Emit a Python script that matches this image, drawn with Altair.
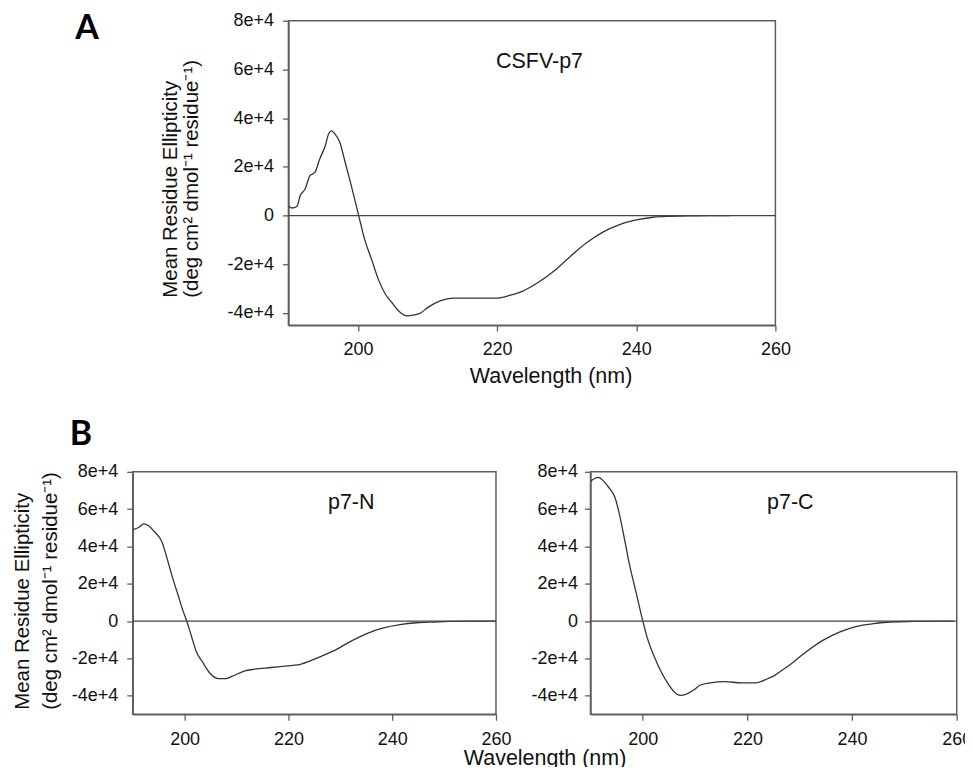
import altair as alt
import pandas as pd

# ---------------- data ----------------
# Panel A : CSFV-p7
wl_a = [190.0, 190.5, 191.2, 191.7, 192.4, 193.1, 193.8, 194.5, 195.3, 195.8, 196.2,
        196.7, 197.4, 198.1, 199.1, 200.1, 201.0, 202.0, 202.9, 203.9, 204.8, 206.0,
        207.0, 207.9, 208.9, 210.0, 211.8, 213.7, 216.5, 219.9, 221.8, 223.7, 225.6,
        228.0, 230.4, 232.8, 235.2, 237.6, 240.0, 242.4, 245.0, 248.0, 250.5, 253.5]
mre_a = [4100, 3100, 3700, 8200, 10900, 16400, 17700, 23200, 28700, 33700, 34800,
         33500, 30000, 22500, 11600, 0, -10200, -18400, -26000, -32100, -35500, -39600,
         -41200, -40900, -40200, -37800, -35000, -33900, -33900, -33900, -32800, -31000, -28000,
         -23200, -17100, -11300, -6800, -3700, -1800, -700, -300, -100, 0, 0]

# Panel B left : p7-N
wl_n = [190.0, 191.2, 192.1, 193.1, 194.3, 195.6, 196.5, 197.5, 198.7, 199.7, 200.4,
        201.3, 202.2, 203.5, 205.0, 206.6, 207.9, 209.1, 211.6, 213.5, 216.7, 219.8,
        221.8, 224.2, 226.5, 228.7, 231.9, 235.1, 238.3, 241.5, 244.7, 247.9, 251.1,
        255.0, 260.0]
mre_n = [49000, 50300, 52100, 51000, 47500, 42700, 34700, 24900, 14200, 5300, 0,
         -8000, -16000, -22200, -28400, -30900, -30900, -29700, -26700, -25800, -24900, -24000,
         -23500, -21300, -18700, -16000, -11000, -6700, -3700, -1900, -900, -500, -200,
         0, 0]

# Panel B right : p7-C
wl_c = [190.0, 190.7, 191.5, 192.5, 193.4, 194.7, 195.6, 196.5, 197.5, 198.7, 199.9,
        200.9, 202.2, 203.5, 205.0, 206.3, 207.2, 208.2, 209.7, 211.0, 212.9, 215.7,
        218.9, 221.7, 223.9, 225.0, 226.4, 228.2, 231.3, 234.5, 237.7, 240.9, 244.1,
        247.3, 251.7, 259.4]
mre_c = [75000, 76300, 77000, 75000, 72000, 66100, 56400, 43900, 29700, 15500, 1200,
         -9400, -19200, -27200, -34300, -38800, -39800, -39300, -37000, -34300, -33100, -32500,
         -33100, -33100, -30800, -29500, -26800, -23300, -16300, -10200, -5800, -2800, -1400,
         -500, -200, 0]

panel_names = ["CSFV-p7", "p7-N", "p7-C"]
label_wl = [226.1, 232.1, 228.2]
label_mre = [63200, 63500, 63500]
panel_letters = ["A", "B"]

x_ticks = [200, 220, 240, 260]
y_ticks = [-40000, -20000, 0, 20000, 40000, 60000, 80000]
y_title = ["Mean Residue Ellipticity", "(deg cm\u00b2 dmol\u207b\u00b9 residue\u207b\u00b9)"]
x_title = "Wavelength (nm)"

FONT = "Liberation Sans"
INK = "#111111"
FRAME = "#5e5e5e"
LABEL_EXPR = "datum.value == 0 ? '0' : (datum.value / 10000) + 'e+4'"


def panel(wl, mre, idx, ydom, w, h, xax, yax, extra=None):
    df = pd.DataFrame({"wl": wl, "mre": mre})
    xs = alt.Scale(domain=[190, 260], nice=False, zero=False)
    ys = alt.Scale(domain=ydom, nice=False, zero=False)
    line = alt.Chart(df).mark_line(
        color="#333333", strokeWidth=1.3, interpolate="monotone", clip=True
    ).encode(
        x=alt.X("wl:Q", scale=xs, axis=xax),
        y=alt.Y("mre:Q", scale=ys, axis=yax),
    )
    zero = alt.Chart(pd.DataFrame({"zero": [0]})).mark_rule(
        color="#444444", strokeWidth=1.3
    ).encode(y=alt.Y("zero:Q", scale=ys, axis=yax))
    lab = alt.Chart(pd.DataFrame({"name": [panel_names[idx]],
                                  "lx": [label_wl[idx]],
                                  "ly": [label_mre[idx]]})).mark_text(
        font=FONT, fontSize=21.5, color=INK, align="center", baseline="middle"
    ).encode(
        x=alt.X("lx:Q", scale=xs, axis=xax),
        y=alt.Y("ly:Q", scale=ys, axis=yax),
        text="name:N",
    )
    layers = [line, zero, lab]
    if extra is not None:
        layers.append(extra)
    return alt.layer(*layers).properties(width=w, height=h)


def xaxis(title=None, titleX=0, titleY=0, pad=9):
    kw = dict(values=x_ticks, labelFlush=False, labelPadding=pad, tickSize=6,
              labelFontSize=18, labelOverlap=False)
    if title is None:
        return alt.Axis(title=None, **kw)
    return alt.Axis(title=title, titleX=titleX, titleY=titleY, titleBaseline="top",
                    titleAlign="center", titleFontSize=21.5, **kw)


def yaxis(title=True, titleX=0, titleY=0, lh=21, pad=9):
    kw = dict(values=y_ticks, labelExpr=LABEL_EXPR, labelPadding=pad, tickSize=6,
              labelFontSize=18)
    if not title:
        return alt.Axis(title=None, **kw)
    return alt.Axis(title=y_title, titleAngle=270, titleAlign="left", titleBaseline="top",
                    titleX=titleX, titleY=titleY, titleLineHeight=lh, titleFontSize=20.5,
                    **kw)


letter_style = dict(font="Lato", fontSize=34, fontWeight="bold", color="#000000",
                    align="left", baseline="alphabetic")

# spacer holding the "A" letter
spacer = alt.Chart(pd.DataFrame({"letter": [panel_letters[0]]})).mark_text(
    **letter_style
).encode(text="letter:N", x=alt.value(-57.5), y=alt.value(18)).properties(
    width=156, height=305, view=alt.ViewBackground(strokeWidth=0)
)

chart_a = panel(wl_a, mre_a, 0, [-45000, 80000], 488, 305,
                xaxis(x_title, titleX=262.7, titleY=40.8),
                yaxis(True, titleX=-128, titleY=277, lh=21, pad=9))

letter_b = alt.Chart(pd.DataFrame({"letter": [panel_letters[1]]})).mark_text(
    **letter_style
).encode(text="letter:N", x=alt.value(-63), y=alt.value(-26.5))

chart_n = panel(wl_n, mre_n, 1, [-50000, 80000], 364, 243,
                xaxis(None, pad=10),
                yaxis(True, titleX=-120, titleY=238, lh=27.5, pad=9),
                extra=letter_b)

chart_c = panel(wl_c, mre_c, 2, [-50000, 80000], 367, 243,
                xaxis(x_title, titleX=-46, titleY=33, pad=10),
                yaxis(False, pad=7))

top = alt.hconcat(spacer, chart_a, spacing=0, bounds="flush")
bottom = alt.hconcat(chart_n, chart_c, spacing=94.7, bounds="flush")

chart = alt.vconcat(top, bottom, spacing=28).properties(
    padding={"left": 4, "top": 2, "right": -8, "bottom": -4}
).configure(
    font=FONT
).configure_axis(
    grid=False,
    domainColor=FRAME, domainWidth=1.5,
    tickColor=FRAME, tickWidth=1.3,
    labelColor=INK, labelFont=FONT,
    titleColor=INK, titleFont=FONT, titleFontWeight="normal",
).configure_view(
    stroke=FRAME, strokeWidth=1.5
)

chart.save("out.html", embed_options={"renderer": "svg", "actions": False})
